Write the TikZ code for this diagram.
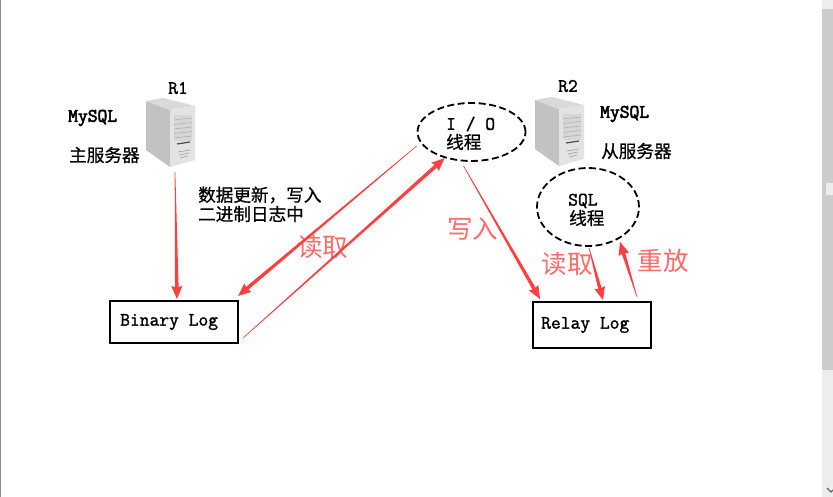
\documentclass[tikz,border=0pt]{standalone}
\usepackage{fontspec}
\newfontfamily\cjk{Noto Sans CJK SC}
\newfontfamily\cjkmid[FakeBold=0.8]{Noto Sans CJK SC}
\newfontfamily\monomid[FakeBold=1.5]{Latin Modern Mono}
\newfontfamily\monoheavy[FakeBold=3]{Latin Modern Mono}
\usetikzlibrary{calc,shapes.geometric}
\definecolor{arrowred}{HTML}{FF4040}
\definecolor{labelred}{HTML}{FF6A6A}
\tikzset{
  box/.style={draw, line width=2pt, minimum height=0pt, inner sep=0pt},
  thread/.style={ellipse, draw, line width=1.8pt, dash pattern=on 7pt off 3.5pt, inner sep=0pt},
  blacktext/.style={inner sep=0pt, font=\fontsize{19}{20}\selectfont\monomid},
  boldtext/.style={inner sep=0pt, font=\fontsize{19}{20}\selectfont\monoheavy},
  cjktext/.style={inner sep=0pt, font=\fontsize{17.6}{18}\selectfont\cjkmid},
  redtext/.style={inner sep=0pt, text=labelred, font=\fontsize{25.5}{26}\selectfont\cjk},
  taper/.style={fill=arrowred, draw=none, to path={
    ($(\tikztostart)!.3pt!90:(\tikztotarget)$) --
    ($($(\tikztotarget)!12pt!(\tikztostart)$)!1.8pt!90:(\tikztotarget)$) --
    ($($(\tikztotarget)!13pt!(\tikztostart)$)!5.5pt!90:(\tikztotarget)$) --
    (\tikztotarget) --
    ($($(\tikztotarget)!13pt!(\tikztostart)$)!5.5pt!-90:(\tikztotarget)$) --
    ($($(\tikztotarget)!12pt!(\tikztostart)$)!1.8pt!-90:(\tikztotarget)$) --
    ($(\tikztostart)!.3pt!-90:(\tikztotarget)$) -- cycle}}
}
\begin{document}
\begin{tikzpicture}[x=1pt,y=-1pt]
 \useasboundingbox (0,0) rectangle (833,497);
 \fill[white] (0,0) rectangle (833,497);
 \fill[black!45] (0,0) rectangle (1,497);

 %scrollbar
 \fill[black!7] (822,0) rectangle (833,497);
 \fill[black!20] (822,9) rectangle (833,370);
 \fill[black!7] (826,183) rectangle (833,195);
 \draw[black!60, line width=1.2pt] (827,488) -- (831,492) -- (833,490);

 %servers
 \foreach \dx/\dy in {146/98, 535/97} {
   \fill[black!24] (\dx+0,\dy+3) -- (\dx+24,\dy+12) -- (\dx+24,\dy+69) -- (\dx+0,\dy+52) -- cycle;
   \fill[black!15] (\dx+0,\dy+3) -- (\dx+17,\dy+0) -- (\dx+49,\dy+8) -- (\dx+24,\dy+12) -- cycle;
   \fill[black!11] (\dx+24,\dy+12) -- (\dx+49,\dy+8) -- (\dx+49,\dy+62) -- (\dx+24,\dy+69) -- cycle;
   \fill[black!16] (\dx+28,\dy+17) rectangle (\dx+46,\dy+43);
   \foreach \k in {0,1,2,3,4}
     \draw[black!32, line width=.5pt] (\dx+28,\dy+22+\k*4.5) -- (\dx+46,\dy+20+\k*4.5);
   \draw[black!70, line width=1.2pt] (\dx+31,\dy+46) -- (\dx+44,\dy+44);
   \foreach \k in {0,1,2}
     \draw[black!35, line width=.7pt] (\dx+32+\k,\dy+54+\k*3) -- (\dx+44-\k,\dy+52+\k*3);
 }

 %left side
 \node[blacktext] (r1) at (178,88) {R1};
 \node[boldtext, anchor=west] (mysqlA) at (68,118) {MySQL};
 \node[cjktext, anchor=west] (masterText) at (69,155) {主服务器};
 \node[cjktext, anchor=west] (updateText) at (198,195) {数据更新，写入};
 \node[cjktext, anchor=west] (binlogText) at (198,214) {二进制日志中};
 \node[box, minimum width=128pt, minimum height=42pt, anchor=north west] (binlog) at (109,300) {};
 \node[blacktext, anchor=west] (binlogName) at (120,322) {Binary Log};
 \node[redtext] (readA) at (322.5,247) {读取};

 %right side
 \node[blacktext] (r2) at (568,86) {R2};
 \node[boldtext, anchor=west] (mysqlB) at (600,114) {MySQL};
 \node[cjktext, anchor=west] (slaveText) at (601,151) {从服务器};
 \node[thread, minimum width=108pt, minimum height=58pt] (io) at (471.5,132) {};
 \node[blacktext, anchor=west] (ioName) at (446,124) {I / O};
 \node[cjktext, anchor=west] (ioText) at (446,142) {线程};
 \node[thread, minimum width=102pt, minimum height=78pt] (sql) at (588,207) {};
 \node[blacktext, anchor=west] (sqlName) at (568,201) {SQL};
 \node[cjktext, anchor=west] (sqlText) at (569,218) {线程};
 \node[box, minimum width=118pt, minimum height=46pt, anchor=north west] (relay) at (532,301) {};
 \node[blacktext, anchor=west] (relayName) at (541,325) {Relay Log};
 \node[redtext] (writeB) at (472.5,229) {写入};
 \node[redtext] (readB) at (567,264) {读取};
 \node[redtext] (replay) at (663,261) {重放};

 %arrow ends
 \coordinate (a1) at (175,172);
 \coordinate (b1) at ($(binlog.north)+(3,-1)$);
 \coordinate (a2) at ($(io.west)+(0,14)$);
 \coordinate (b2) at ($(binlog.north east)+(-1,-4)$);
 \coordinate (a3) at ($(binlog.east)+(4,16)$);
 \coordinate (b3) at ($(io.south west)+(12,5)$);
 \coordinate (a4) at ($(io.south)+(-8,4)$);
 \coordinate (b4) at ($(relay.north west)+(8,-2)$);
 \coordinate (a5) at ($(sql.south)+(1,1)$);
 \coordinate (b5) at ($(relay.north)+(11,-1)$);
 \coordinate (a6) at ($(relay.north)+(45,-4)$);
 \coordinate (b6) at ($(sql.south)+(32,-5)$);

 %arrows
 \draw[taper] (a1) to (b1);
 \draw[taper] (a2) to (b2);
 \draw[taper] (a3) to (b3);
 \draw[taper] (a4) to (b4);
 \draw[taper] (a5) to (b5);
 \draw[taper] (a6) to (b6);
\end{tikzpicture}
\end{document}
